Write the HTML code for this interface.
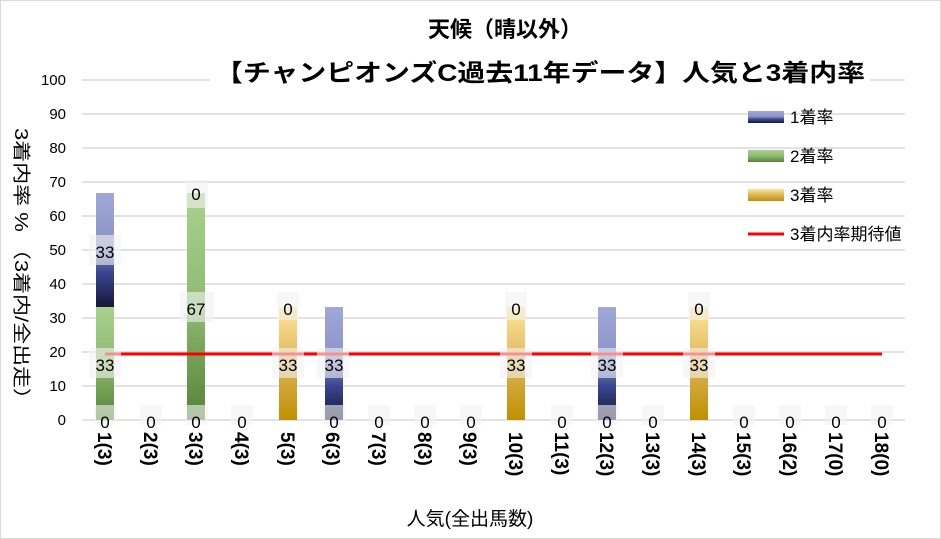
<!DOCTYPE html>
<html><head><meta charset="utf-8"><style>body{margin:0}svg{display:block}</style></head><body>
<svg width="941" height="539" xmlns="http://www.w3.org/2000/svg" font-family="Liberation Sans, Noto Sans CJK JP, sans-serif">
<defs>
<linearGradient id="b" x1="0" y1="0" x2="0" y2="1"><stop offset="0" stop-color="#a0a8d8"/><stop offset="0.45" stop-color="#8c94c8"/><stop offset="0.7" stop-color="#3a4590"/><stop offset="1" stop-color="#151838"/></linearGradient>
<linearGradient id="g" x1="0" y1="0" x2="0" y2="1"><stop offset="0" stop-color="#a9d18e"/><stop offset="0.5" stop-color="#8fba72"/><stop offset="1" stop-color="#548235"/></linearGradient>
<linearGradient id="y" x1="0" y1="0" x2="0" y2="1"><stop offset="0" stop-color="#ffe699"/><stop offset="0.5" stop-color="#dcb45a"/><stop offset="1" stop-color="#bf9000"/></linearGradient>
</defs>
<rect x="0.5" y="0.5" width="940" height="538" fill="#fff" stroke="#d9d9d9"/>
<g stroke="#d9d9d9" stroke-width="1.5">
<line x1="82" x2="905" y1="80" y2="80"/><line x1="82" x2="905" y1="114" y2="114"/><line x1="82" x2="905" y1="148" y2="148"/><line x1="82" x2="905" y1="182" y2="182"/><line x1="82" x2="905" y1="216" y2="216"/><line x1="82" x2="905" y1="250" y2="250"/><line x1="82" x2="905" y1="284" y2="284"/><line x1="82" x2="905" y1="318" y2="318"/><line x1="82" x2="905" y1="352" y2="352"/><line x1="82" x2="905" y1="386" y2="386"/><line x1="82" x2="905" y1="420" y2="420"/>
</g>
<rect x="210" y="58" width="660" height="30" fill="#fff"/>
<text x="505" y="37" font-size="22" font-weight="bold" text-anchor="middle">天候（晴以外）</text>
<text x="215" y="81" font-size="24" font-weight="bold" textLength="650" lengthAdjust="spacingAndGlyphs">【チャンピオンズC過去11年データ】人気と3着内率</text>
<g font-size="15" text-anchor="end">
<text x="66" y="85">100</text><text x="66" y="119">90</text><text x="66" y="153">80</text><text x="66" y="187">70</text><text x="66" y="221">60</text><text x="66" y="255">50</text><text x="66" y="289">40</text><text x="66" y="323">30</text><text x="66" y="357">20</text><text x="66" y="391">10</text><text x="66" y="425">0</text>
</g>
<text transform="translate(15,128) rotate(90)" font-size="18" textLength="282" lengthAdjust="spacingAndGlyphs">3着内率 %  （3着内/全出走）</text>
<rect x="96" y="193" width="18" height="114" fill="url(#b)"/>
<rect x="96" y="307" width="18" height="113" fill="url(#g)"/>
<rect x="187" y="193" width="18" height="227" fill="url(#g)"/>
<rect x="279" y="307" width="18" height="113" fill="url(#y)"/>
<rect x="325" y="307" width="18" height="113" fill="url(#b)"/>
<rect x="507" y="307" width="18" height="113" fill="url(#y)"/>
<rect x="598" y="307" width="18" height="113" fill="url(#b)"/>
<rect x="690" y="307" width="18" height="113" fill="url(#y)"/>
<line x1="105" x2="882" y1="354" y2="354" stroke="#ff0000" stroke-width="3"/>
<g fill="#f2f2f2" fill-opacity="0.6">
<rect x="89" y="235" width="32" height="30"/><rect x="89" y="348" width="32" height="30"/><rect x="94" y="405" width="22" height="20"/>
<rect x="186" y="180" width="22" height="28"/><rect x="180" y="292" width="34" height="30"/><rect x="186" y="405" width="22" height="20"/>
<rect x="277" y="292" width="22" height="28"/><rect x="272" y="348" width="32" height="30"/>
<rect x="317" y="348" width="32" height="30"/><rect x="323" y="405" width="22" height="20"/>
<rect x="505" y="292" width="22" height="28"/><rect x="500" y="348" width="32" height="30"/>
<rect x="591" y="348" width="32" height="30"/><rect x="596" y="405" width="22" height="20"/>
<rect x="688" y="292" width="22" height="28"/><rect x="683" y="348" width="32" height="30"/>
<rect x="140" y="405" width="22" height="20"/><rect x="231" y="405" width="22" height="20"/><rect x="368" y="405" width="22" height="20"/><rect x="414" y="405" width="22" height="20"/><rect x="460" y="405" width="22" height="20"/><rect x="551" y="405" width="22" height="20"/><rect x="642" y="405" width="22" height="20"/><rect x="733" y="405" width="22" height="20"/><rect x="779" y="405" width="22" height="20"/><rect x="825" y="405" width="22" height="20"/><rect x="871" y="405" width="22" height="20"/>
</g>
<g font-size="17" text-anchor="middle" fill="#000">
<text x="105" y="258">33</text><text x="105" y="371">33</text><text x="105" y="428">0</text>
<text x="196" y="200">0</text><text x="196" y="315">67</text><text x="196" y="428">0</text>
<text x="288" y="315">0</text><text x="288" y="371">33</text>
<text x="334" y="371">33</text><text x="334" y="428">0</text>
<text x="516" y="315">0</text><text x="516" y="371">33</text>
<text x="607" y="371">33</text><text x="607" y="428">0</text>
<text x="699" y="315">0</text><text x="699" y="371">33</text>
<text x="151" y="428">0</text><text x="242" y="428">0</text><text x="379" y="428">0</text><text x="425" y="428">0</text><text x="471" y="428">0</text><text x="562" y="428">0</text><text x="653" y="428">0</text><text x="744" y="428">0</text><text x="790" y="428">0</text><text x="836" y="428">0</text><text x="882" y="428">0</text>
</g>
<g font-size="19" font-weight="bold">
<text transform="translate(98,432) rotate(90)">1(3)</text>
<text transform="translate(144,432) rotate(90)">2(3)</text>
<text transform="translate(189,432) rotate(90)">3(3)</text>
<text transform="translate(235,432) rotate(90)">4(3)</text>
<text transform="translate(281,432) rotate(90)">5(3)</text>
<text transform="translate(326,432) rotate(90)">6(3)</text>
<text transform="translate(372,432) rotate(90)">7(3)</text>
<text transform="translate(418,432) rotate(90)">8(3)</text>
<text transform="translate(463,432) rotate(90)">9(3)</text>
<text transform="translate(509,432) rotate(90)">10(3)</text>
<text transform="translate(555,432) rotate(90)">11(3)</text>
<text transform="translate(600,432) rotate(90)">12(3)</text>
<text transform="translate(646,432) rotate(90)">13(3)</text>
<text transform="translate(692,432) rotate(90)">14(3)</text>
<text transform="translate(737,432) rotate(90)">15(3)</text>
<text transform="translate(783,432) rotate(90)">16(2)</text>
<text transform="translate(829,432) rotate(90)">17(0)</text>
<text transform="translate(875,432) rotate(90)">18(0)</text>
</g>
<text x="470" y="525" font-size="19" text-anchor="middle">人気(全出馬数)</text>
<rect x="748" y="111" width="36" height="12" fill="url(#b)"/>
<rect x="748" y="150" width="36" height="12" fill="url(#g)"/>
<rect x="748" y="189" width="36" height="12" fill="url(#y)"/>
<line x1="748" x2="784" y1="234" y2="234" stroke="#ff0000" stroke-width="3"/>
<g font-size="17">
<text x="790" y="123">1着率</text><text x="790" y="162">2着率</text><text x="790" y="201">3着率</text><text x="790" y="240">3着内率期待値</text>
</g>
</svg>
</body></html>
